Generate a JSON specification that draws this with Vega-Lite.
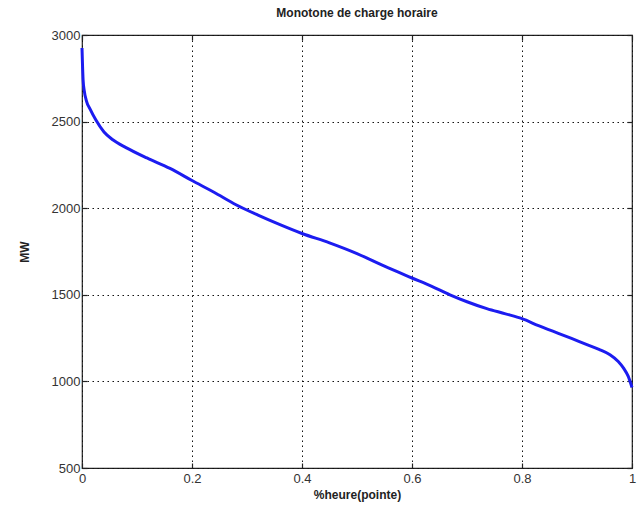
{
  "$schema": "https://vega.github.io/schema/vega-lite/v6.json",
  "width": 550,
  "height": 433,
  "autosize": "none",
  "padding": {"left": 82, "top": 35, "right": 5, "bottom": 45},
  "background": "white",
  "title": {"text": "Monotone de charge horaire", "font": "Liberation Sans", "fontSize": 12, "fontWeight": "bold", "color": "#222", "offset": 9},
  "config": {
    "view": {"stroke": "#222", "strokeWidth": 1.2},
    "axis": {"labelFont": "Liberation Sans", "labelFontSize": 13, "labelColor": "#333", "titleFont": "Liberation Sans", "titleFontSize": 12, "titleFontWeight": "bold", "titleColor": "#222", "domain": false, "tickColor": "#222", "tickSize": -5, "tickWidth": 1.2, "gridColor": "#111", "gridDash": [1.5, 3.5], "gridWidth": 1, "gridOpacity": 1}
  },
  "data": {"values": [
    {"x": 0, "y": 2925},
    {"x": 0.001, "y": 2820},
    {"x": 0.002, "y": 2740},
    {"x": 0.004, "y": 2680},
    {"x": 0.008, "y": 2620},
    {"x": 0.015, "y": 2570},
    {"x": 0.025, "y": 2510},
    {"x": 0.04, "y": 2440},
    {"x": 0.056, "y": 2395},
    {"x": 0.08, "y": 2350},
    {"x": 0.118, "y": 2290},
    {"x": 0.16, "y": 2230},
    {"x": 0.2, "y": 2160},
    {"x": 0.24, "y": 2092},
    {"x": 0.28, "y": 2020},
    {"x": 0.32, "y": 1960},
    {"x": 0.36, "y": 1905},
    {"x": 0.4, "y": 1854},
    {"x": 0.45, "y": 1800},
    {"x": 0.5, "y": 1738},
    {"x": 0.55, "y": 1665},
    {"x": 0.6, "y": 1597},
    {"x": 0.635, "y": 1550},
    {"x": 0.669, "y": 1500},
    {"x": 0.7, "y": 1460},
    {"x": 0.736, "y": 1420},
    {"x": 0.77, "y": 1390},
    {"x": 0.8, "y": 1362},
    {"x": 0.83, "y": 1322},
    {"x": 0.856, "y": 1290},
    {"x": 0.89, "y": 1248},
    {"x": 0.918, "y": 1212},
    {"x": 0.94, "y": 1185},
    {"x": 0.96, "y": 1154},
    {"x": 0.975, "y": 1115},
    {"x": 0.985, "y": 1075},
    {"x": 0.993, "y": 1030},
    {"x": 1.0, "y": 965}
  ]},
  "layer": [
    {
      "mark": {"type": "line", "color": "#1c1cf0", "strokeWidth": 3, "interpolate": "monotone"},
      "encoding": {
        "x": {"field": "x", "type": "quantitative", "scale": {"domain": [0, 1], "nice": false, "zero": false},
              "axis": {"title": "%heure(pointe)", "values": [0, 0.2, 0.4, 0.6, 0.8, 1], "format": "~g", "labelPadding": 9, "titlePadding": 4, "labelFlush": false}},
        "y": {"field": "y", "type": "quantitative", "scale": {"domain": [500, 3000], "nice": false, "zero": false},
              "axis": {"title": "MW", "values": [500, 1000, 1500, 2000, 2500, 3000], "format": "d", "labelPadding": 7, "titlePadding": 20, "labelFlush": false}}
      }
    },
    {
      "mark": {"type": "line", "opacity": 0},
      "encoding": {
        "x": {"field": "x", "type": "quantitative", "scale": {"domain": [0, 1], "nice": false, "zero": false},
              "axis": {"orient": "top", "title": null, "labels": false, "grid": false, "values": [0, 0.2, 0.4, 0.6, 0.8, 1]}},
        "y": {"field": "y", "type": "quantitative", "scale": {"domain": [500, 3000], "nice": false, "zero": false},
              "axis": {"orient": "right", "title": null, "labels": false, "grid": false, "values": [500, 1000, 1500, 2000, 2500, 3000]}}
      }
    }
  ],
  "resolve": {"axis": {"x": "independent", "y": "independent"}}
}
